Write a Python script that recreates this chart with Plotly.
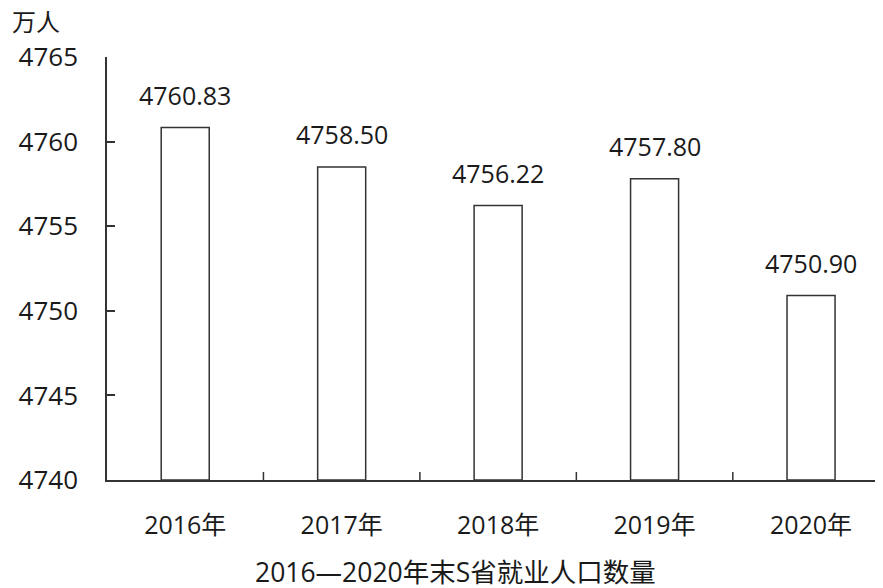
import plotly.graph_objects as go

categories = ["2016年", "2017年", "2018年", "2019年", "2020年"]
values = [4760.83, 4758.50, 4756.22, 4757.80, 4750.90]
value_labels = ["4760.83", "4758.50", "4756.22", "4757.80", "4750.90"]
y_ticks = [4740, 4745, 4750, 4755, 4760, 4765]

FONT = "Open Sans, Noto Sans CJK SC"
TXT = "#1a1a1a"
LINE = "#333333"

fig = go.Figure()
fig.add_trace(go.Bar(
    x=list(range(len(categories))), y=[v - 4740 for v in values], base=4740,
    width=0.307,
    marker=dict(color="white", line=dict(color=LINE, width=1.5)),
    hoverinfo="skip",
))
for i, (v, t) in enumerate(zip(values, value_labels)):
    fig.add_annotation(x=i, y=v, text=t, showarrow=False, yanchor="bottom",
                       yshift=14, font=dict(family=FONT, size=25, color=TXT))

fig.add_annotation(xref="paper", yref="paper", x=-0.125, y=1.083, xanchor="left",
                   yanchor="middle", text="万人", showarrow=False,
                   font=dict(family=FONT, size=24, color=TXT))
fig.add_annotation(xref="paper", yref="paper", x=0.4497, y=-0.217, yanchor="middle",
                   text="2016—2020年末S省就业人口数量", showarrow=False,
                   font=dict(family=FONT, size=26.5, color=TXT))

fig.update_layout(
    width=875, height=580,
    margin=dict(l=99, r=0, t=49, b=108),
    plot_bgcolor="white", paper_bgcolor="white",
    showlegend=False,
    xaxis=dict(
        range=[-0.5, 4.46],
        tickmode="array", tickvals=list(range(len(categories))), ticktext=categories,
        showline=True, linecolor=LINE, linewidth=1.5,
        ticks="", showgrid=False, zeroline=False,
        tickfont=dict(family=FONT, size=25, color=TXT),
        ticklabelstandoff=22,
    ),
    yaxis=dict(
        range=[4740, 4765],
        tickmode="array", tickvals=y_ticks,
        showline=True, linecolor=LINE, linewidth=1.5,
        ticks="inside", ticklen=8, tickcolor=LINE, tickwidth=1.5,
        showgrid=False, zeroline=False,
        tickfont=dict(family=FONT, size=26, color=TXT),
        ticklabelstandoff=22,
    ),
)
# category boundary ticks on the x axis
for b in [0.5, 1.5, 2.5, 3.5]:
    fig.add_shape(type="line", xref="x", yref="paper", x0=b, x1=b, y0=0, y1=0.019,
                  line=dict(color=LINE, width=1.5))

fig.write_html("out.html")
